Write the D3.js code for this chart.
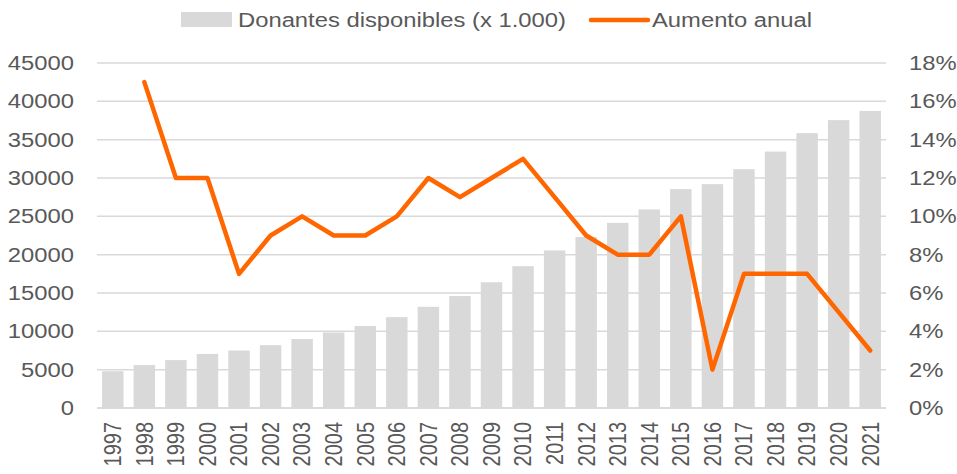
<!DOCTYPE html>
<html><head><meta charset="utf-8">
<script src="https://cdn.jsdelivr.net/npm/d3@7"></script>
<style>body{margin:0;background:#fff}svg{display:block;font-family:"Liberation Sans",Arial,sans-serif}</style>
</head><body><svg id="c" width="957" height="474"></svg>
<script>
const years = ["1997","1998","1999","2000","2001","2002","2003","2004","2005","2006","2007","2008","2009","2010","2011","2012","2013","2014","2015","2016","2017","2018","2019","2020","2021"];
const donantes = [4800,5600,6250,7050,7500,8200,9000,9850,10700,11850,13200,14600,16400,18500,20550,22300,24150,25900,28550,29200,31150,33450,35850,37550,38750];
const aumento = [null,17,12,12,7,9,10,9,9,10,12,11,12,13,11,9,8,8,10,2,7,7,7,5,3];
const leftTicks = [0,5000,10000,15000,20000,25000,30000,35000,40000,45000];
const rightTicks = [0,2,4,6,8,10,12,14,16,18];
const seriesNames = ["Donantes disponibles (x 1.000)","Aumento anual"];

const svg = d3.select("#c");
const L = 97, R = 886, T = 63, B = 408;
const SX = 1.19; // horizontal stretch of the text in the reference
const FS = "20px";
const textCol = "#595959", gridCol = "#d9d9d9", barCol = "#d9d9d9", lineCol = "#ff6600";

const x = d3.scaleBand().domain(years).range([L, R]).paddingInner(0.32).paddingOuter(0.16);
const y = d3.scaleLinear().domain([0,45000]).range([B, T]);
const y2 = d3.scaleLinear().domain([0,18]).range([B, T]);

// gridlines
svg.append("g").selectAll("line").data(leftTicks).join("line")
  .attr("x1", L).attr("x2", R).attr("y1", d => y(d)).attr("y2", d => y(d))
  .attr("stroke", gridCol).attr("stroke-width", 1.5);

// bars
svg.append("g").selectAll("rect").data(donantes).join("rect")
  .attr("x", (d,i) => x(years[i])).attr("width", x.bandwidth())
  .attr("y", d => y(d)).attr("height", d => B - y(d)).attr("fill", barCol);

// baseline
svg.append("line").attr("x1", L).attr("x2", R).attr("y1", B).attr("y2", B)
  .attr("stroke", gridCol).attr("stroke-width", 1.5);

// line
const line = d3.line().defined(d => d != null)
  .x((d,i) => x(years[i]) + x.bandwidth()/2).y(d => y2(d));
svg.append("path").datum(aumento).attr("d", line).attr("fill","none")
  .attr("stroke", lineCol).attr("stroke-width", 4.5).attr("stroke-linejoin","round").attr("stroke-linecap","round");

// left axis
const axL = svg.append("g").attr("transform", `translate(${L},0)`)
  .call(d3.axisLeft(y).tickValues(leftTicks).tickFormat(d3.format("d")).tickSize(0).tickPadding(23));
axL.select(".domain").remove();
axL.selectAll("text").attr("fill", textCol).style("font-size",FS)
  .attr("x",0).attr("transform", `translate(-23,0) scale(${SX},1)`);

// right axis
const axR = svg.append("g").attr("transform", `translate(${R},0)`)
  .call(d3.axisRight(y2).tickValues(rightTicks).tickFormat(d => d + "%").tickSize(0).tickPadding(23));
axR.select(".domain").remove();
axR.selectAll("text").attr("fill", textCol).style("font-size",FS)
  .attr("x",0).attr("transform", `translate(23,0) scale(${SX},1)`);

// x axis
const axX = svg.append("g").attr("transform", `translate(0,${B})`)
  .call(d3.axisBottom(x).tickSize(0).tickPadding(0));
axX.select(".domain").remove();
axX.selectAll("text").attr("fill", textCol).style("font-size",FS)
  .attr("transform",`scale(${SX},1) rotate(-90)`).attr("text-anchor","end").attr("x",-14).attr("y",0).attr("dy","0.35em");

// legend
const lg = svg.append("g");
lg.append("rect").attr("x",181).attr("y",12).attr("width",51).attr("height",15).attr("fill",barCol);
lg.append("text").attr("transform",`translate(238,20) scale(${SX},1)`).attr("dy","0.35em").attr("fill",textCol).style("font-size",FS).text(seriesNames[0]);
lg.append("line").attr("x1",591).attr("x2",648).attr("y1",20).attr("y2",20).attr("stroke",lineCol).attr("stroke-width",4.5).attr("stroke-linecap","round");
lg.append("text").attr("transform",`translate(652,20) scale(${SX},1)`).attr("dy","0.35em").attr("fill",textCol).style("font-size",FS).text(seriesNames[1]);
</script></body></html>
